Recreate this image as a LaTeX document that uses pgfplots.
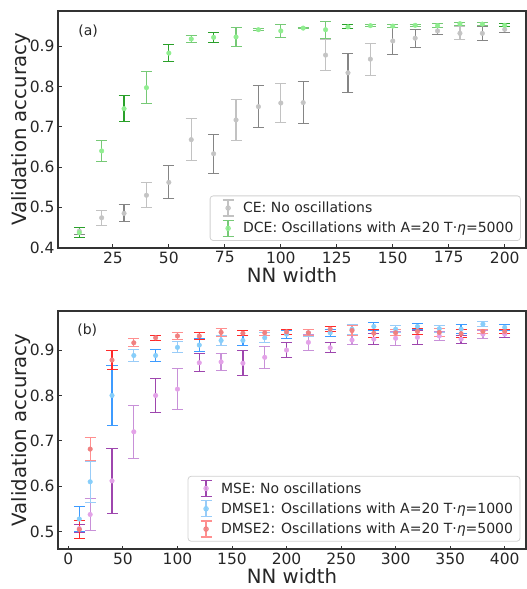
\documentclass[border=0pt]{standalone}
\usepackage{fontspec}
\setmainfont{DejaVu Sans}
\usepackage{pgfplots}
\pgfplotsset{compat=1.18}
\definecolor{txt}{HTML}{262626}
\definecolor{axc}{HTML}{333333}
\definecolor{cedark}{HTML}{858585}
\definecolor{celight}{HTML}{C2C2C2}
\definecolor{cemark}{HTML}{C4C4C4}
\definecolor{dcedark}{HTML}{2AA02A}
\definecolor{dcelight}{HTML}{76C976}
\definecolor{dcemark}{HTML}{90EE90}
\definecolor{msedark}{HTML}{9E46AE}
\definecolor{mselight}{HTML}{C890D8}
\definecolor{msemark}{HTML}{E3A2E8}
\definecolor{d1dark}{HTML}{3D9BFF}
\definecolor{d1light}{HTML}{99CCF8}
\definecolor{d1mark}{HTML}{87CEFA}
\definecolor{d2dark}{HTML}{FF2A2A}
\definecolor{d2light}{HTML}{FF8F8F}
\definecolor{d2mark}{HTML}{F08080}
\newcommand{\ebimg}[2]{%
  \path[draw=none,fill=none] (0bp,0bp) -- (26bp,0bp);
  \draw[#1, line width=1.3bp] (13bp,-8bp)--(13bp,8bp) (7.5bp,-8bp)--(18.5bp,-8bp) (7.5bp,8bp)--(18.5bp,8bp);
  \fill[#2] (13bp,0bp) circle (2.3bp);}
\pgfplotsset{
  myax/.style={
    scale only axis,
    axis line style={draw=axc, line width=1.2bp},
    tick style={draw=axc, line width=0.9bp},
    major tick length=3.5bp,
    tick align=inside,
    tick pos=left,
    /pgf/number format/assume math mode=true,
    every tick label/.append style={font=\fontsize{15.5bp}{18bp}\selectfont, text=txt},
    yticklabel style={/pgf/number format/.cd, fixed, precision=1, fixed zerofill},
    label style={font=\fontsize{19.7bp}{23bp}\selectfont, text=txt},
    ylabel style={at={(axis description cs:-0.0577,0.5)}, anchor=south, inner sep=0pt},
    legend style={font=\fontsize{14bp}{17bp}\selectfont, text=txt, draw=black!18, line width=0.8bp,
      rounded corners=3bp, fill=white, fill opacity=0.8, text opacity=1,
      inner xsep=5bp, inner ysep=3.5bp, row sep=3bp,
      /tikz/every even column/.append style={column sep=0bp}},
    legend cell align=left,
  },
  eb/.style n args={3}{only marks, color=#3, mark=*, mark size=2.3bp, mark options={solid, fill=#3, draw=#3},
    error bars/y dir=both, error bars/y explicit,
    error bars/error mark=|,
    error bars/error bar style={line width=1.3bp, draw=#1},
    error bars/error mark options={line width=1bp, draw=#1, mark size=5.5bp},
    legend image code/.code={\ebimg{#2}{#3}}},
}
\begin{document}
\begin{tikzpicture}
\useasboundingbox (0bp,0bp) rectangle (527bp,589bp);
% ---------------- panel (a)
\begin{axis}[myax,
  at={(58bp,341bp)}, anchor=south west,
  width=468bp, height=237bp,
  xmin=0.5, xmax=209.5, ymin=0.399, ymax=0.9875,
  xtick={25,50,...,200}, ytick={0.4,0.5,...,0.9},
  xlabel={NN width}, ylabel={Validation accuracy},
  xlabel style={at={(axis description cs:0.5,-0.1435)}, anchor=base},
  legend style={at={(0.989,0.03)}, anchor=south east},
]
\addplot[eb={cedark}{celight}{cemark}] table[x=x,y=y,y error=e,row sep=\\]{
x y e\\ 10 0.441 0.008\\ 30 0.485 0.021\\ 50 0.562 0.041\\ 70 0.633 0.049\\ 90 0.750 0.052\\
110 0.760 0.053\\ 130 0.834 0.049\\ 150 0.913 0.033\\ 160 0.920 0.022\\ 170 0.938 0.009\\
190 0.932 0.017\\ 200 0.942 0.008\\};
\addlegendentry{CE: No oscillations}
\addplot[eb={celight}{celight}{cemark}, forget plot] table[x=x,y=y,y error=e,row sep=\\]{
x y e\\ 20 0.474 0.018\\ 40 0.530 0.031\\ 60 0.668 0.052\\ 80 0.717 0.051\\ 100 0.759 0.049\\
120 0.878 0.039\\ 140 0.868 0.040\\ 180 0.932 0.016\\};
\addplot[eb={dcedark}{dcelight}{dcemark}] table[x=x,y=y,y error=e,row sep=\\]{
x y e\\ 10 0.437 0.013\\ 30 0.745 0.033\\ 50 0.883 0.022\\ 70 0.922 0.012\\ 130 0.948 0.005\\
200 0.952 0.004\\};
\addlegendentry{DCE: Oscillations with A=20 T·\textit{η}=5000}
\addplot[eb={dcelight}{dcelight}{dcemark}, forget plot] table[x=x,y=y,y error=e,row sep=\\]{
x y e\\ 20 0.640 0.026\\ 40 0.797 0.040\\ 60 0.918 0.009\\ 80 0.923 0.024\\ 90 0.941 0.003\\
100 0.938 0.016\\ 110 0.945 0.002\\ 120 0.941 0.021\\ 140 0.951 0.002\\ 150 0.950 0.003\\
160 0.952 0.003\\ 170 0.951 0.005\\ 180 0.956 0.004\\ 190 0.955 0.003\\};
\node[anchor=west, font=\fontsize{14bp}{16bp}\selectfont, text=txt, inner sep=0pt] at (axis description cs:0.043,0.916) {(a)};
\end{axis}
% ---------------- panel (b)
\begin{axis}[myax,
  at={(58bp,40bp)}, anchor=south west,
  width=468bp, height=238bp,
  xmin=-9.5, xmax=419.5, ymin=0.462, ymax=0.986,
  xtick={0,50,...,400}, ytick={0.5,0.6,...,0.9},
  xlabel={NN width}, ylabel={Validation accuracy},
  xlabel style={at={(axis description cs:0.5,-0.143)}, anchor=base},
  legend style={at={(0.988,0.031)}, anchor=south east},
]
\addplot[eb={msedark}{msedark}{msemark}] table[x=x,y=y,y error=e,row sep=\\]{
x y e\\ 10 0.507 0.008\\ 40 0.612 0.072\\ 80 0.800 0.038\\ 120 0.872 0.020\\ 160 0.871 0.028\\
200 0.900 0.017\\ 240 0.905 0.011\\ 280 0.924 0.012\\ 320 0.928 0.015\\ 360 0.924 0.009\\ 400 0.935 0.007\\};
\addlegendentry{MSE: No oscillations}
\addplot[eb={mselight}{msedark}{msemark}, forget plot] table[x=x,y=y,y error=e,row sep=\\]{
x y e\\ 20 0.538 0.036\\ 60 0.720 0.058\\ 100 0.814 0.045\\ 140 0.874 0.019\\ 180 0.884 0.024\\
220 0.917 0.018\\ 260 0.922 0.010\\ 300 0.926 0.015\\ 340 0.931 0.010\\ 380 0.935 0.009\\};
\addplot[eb={d1dark}{d1light}{d1mark}] table[x=x,y=y,y error=e,row sep=\\]{
x y e\\ 10 0.528 0.027\\ 40 0.800 0.065\\ 80 0.888 0.013\\ 120 0.911 0.015\\ 160 0.921 0.012\\
200 0.935 0.009\\ 240 0.938 0.008\\ 280 0.952 0.008\\ 320 0.952 0.007\\ 360 0.946 0.010\\ 400 0.950 0.007\\};
\addlegendentry{DMSE1: Oscillations with A=20 T·\textit{η}=1000}
\addplot[eb={d1light}{d1light}{d1mark}, forget plot] table[x=x,y=y,y error=e,row sep=\\]{
x y e\\ 20 0.610 0.045\\ 60 0.888 0.0125\\ 100 0.906 0.012\\ 140 0.921 0.010\\ 180 0.927 0.011\\
220 0.938 0.008\\ 260 0.946 0.011\\ 300 0.946 0.008\\ 340 0.947 0.008\\ 380 0.957 0.005\\};
\addplot[eb={d2dark}{d2light}{d2mark}] table[x=x,y=y,y error=e,row sep=\\]{
x y e\\ 10 0.505 0.020\\ 40 0.878 0.021\\ 80 0.927 0.006\\ 120 0.931 0.007\\ 160 0.937 0.006\\
200 0.940 0.005\\ 240 0.946 0.005\\ 280 0.937 0.009\\ 320 0.941 0.006\\ 360 0.936 0.009\\ 400 0.941 0.005\\};
\addlegendentry{DMSE2: Oscillations with A=20 T·\textit{η}=5000}
\addplot[eb={d2light}{d2light}{d2mark}, forget plot] table[x=x,y=y,y error=e,row sep=\\]{
x y e\\ 20 0.682 0.025\\ 60 0.916 0.009\\ 100 0.931 0.008\\ 140 0.939 0.009\\ 180 0.938 0.006\\
220 0.938 0.007\\ 260 0.943 0.010\\ 300 0.938 0.007\\ 340 0.939 0.009\\ 380 0.941 0.005\\};
\node[anchor=west, font=\fontsize{14bp}{16bp}\selectfont, text=txt, inner sep=0pt] at (axis description cs:0.041,0.92) {(b)};
\end{axis}
\end{tikzpicture}
\end{document}
